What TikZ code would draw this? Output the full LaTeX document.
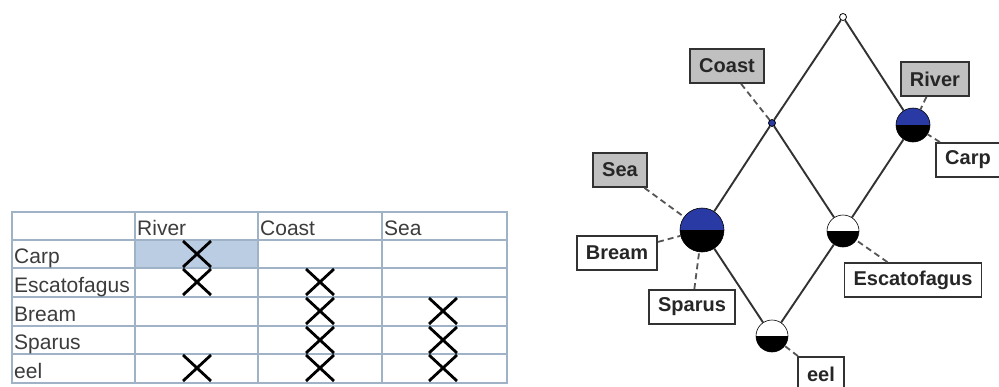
\documentclass[tikz,border=0pt]{standalone}
\usepackage{fontspec}
\setmainfont{Liberation Sans}
\definecolor{gridc}{RGB}{160,178,198}
\definecolor{hilite}{RGB}{186,205,226}
\definecolor{tabtext}{RGB}{60,60,60}
\definecolor{conblue}{RGB}{42,58,165}
\definecolor{lblgray}{RGB}{192,192,192}
\definecolor{edgec}{RGB}{50,50,50}
\definecolor{dashcol}{RGB}{85,85,85}
\tikzset{
  tabtxt/.style={anchor=base west, inner sep=0pt, text=tabtext, font=\fontsize{21pt}{24pt}\selectfont},
  gridline/.style={draw=gridc, line width=1.3pt},
  xmark/.style={draw=black, line width=2.8pt},
  edge/.style={draw=edgec, line width=1.9pt},
  dashc/.style={draw=dashcol, line width=1.8pt, dash pattern=on 6pt off 4pt},
  smallnode/.style={circle, draw=black, line width=0.8pt, inner sep=0pt, minimum size=7pt},
  half/.style={circle, draw=black, line width=0.6pt, inner sep=0pt,
    path picture={
      \fill[#1] (path picture bounding box.north west) rectangle (path picture bounding box.east);
      \fill[black] (path picture bounding box.west) rectangle (path picture bounding box.south east);}},
  lbl/.style={draw=edgec, line width=1.8pt, fill=white, inner xsep=9pt, inner ysep=0pt,
    minimum height=34pt, text=black!85, font=\bfseries\fontsize{20pt}{22pt}\selectfont},
  glbl/.style={lbl, fill=lblgray}
}
\begin{document}
\begin{tikzpicture}[x=1pt,y=-1pt]
\clip (0,0) rectangle (999,386);
\fill[white] (0,0) rectangle (999,386);
% ---------- table ----------
\fill[hilite] (135,240) rectangle (258,268);
\foreach \yy in {240,268,297,326,354} \draw[gridline] (12,\yy) -- (507,\yy);
\foreach \xx in {135,258,382} \draw[gridline] (\xx,212) -- (\xx,383);
\draw[gridline, line width=1.6pt] (12,212) rectangle (507,383);
\node[tabtxt] (hRiver) at (137,235) {River};
\node[tabtxt] (hCoast) at (260,235) {Coast};
\node[tabtxt] (hSea) at (384,235) {Sea};
\node[tabtxt] (rCarp) at (14,263) {Carp};
\node[tabtxt] (rEsc) at (14,292) {Escatofagus};
\node[tabtxt] (rBream) at (14,321) {Bream};
\node[tabtxt] (rSparus) at (14,349) {Sparus};
\node[tabtxt] (rEel) at (14,378) {eel};
\foreach \cx/\cy in {197/254,197/282,320/282,320/311,443/311,320/340,443/340,197/368,320/368,443/368}
  \draw[xmark] (\cx-14,\cy-13) -- (\cx+14,\cy+13) (\cx-14,\cy+13) -- (\cx+14,\cy-13);
% ---------- lattice ----------
\node[smallnode, fill=white] (top) at (843,17) {};
\node[smallnode, fill=conblue] (coast) at (772,123) {};
\node[half=conblue, minimum size=34pt] (river) at (913,125) {};
\node[half=conblue, minimum size=44pt] (bream) at (702,230) {};
\node[half=white, minimum size=32pt] (esc) at (843,231) {};
\node[half=white, minimum size=32pt] (eel) at (772,336) {};
\draw[edge] (top) -- (coast);
\draw[edge] (top) -- (river);
\draw[edge] (coast) -- (bream);
\draw[edge] (coast) -- (esc);
\draw[edge] (river) -- (esc);
\draw[edge] (bream) -- (eel);
\draw[edge] (esc) -- (eel);
% labels
\node[glbl] (coastlbl) at (727,66) {Coast};
\node[glbl] (riverlbl) at (935,79) {River};
\node[lbl] (carplbl) at (968,160) {Carp};
\node[glbl] (sealbl) at (620,170) {Sea};
\node[lbl] (breamlbl) at (617,253) {Bream};
\node[lbl] (spaluslbl) at (692,307) {Sparus};
\node[lbl] (esclbl) at (913,280) {Escatofagus};
\node[lbl] (eellbl) at (821,374) {eel};
\draw[dashc] (coastlbl) -- (coast);
\draw[dashc] (riverlbl) -- (river);
\draw[dashc] (carplbl) -- (river);
\draw[dashc] (sealbl) -- (bream);
\draw[dashc] (breamlbl) -- (bream);
\draw[dashc] (spaluslbl) -- (bream);
\draw[dashc] (esclbl) -- (esc);
\draw[dashc] (eellbl) -- (eel);
\end{tikzpicture}
\end{document}
